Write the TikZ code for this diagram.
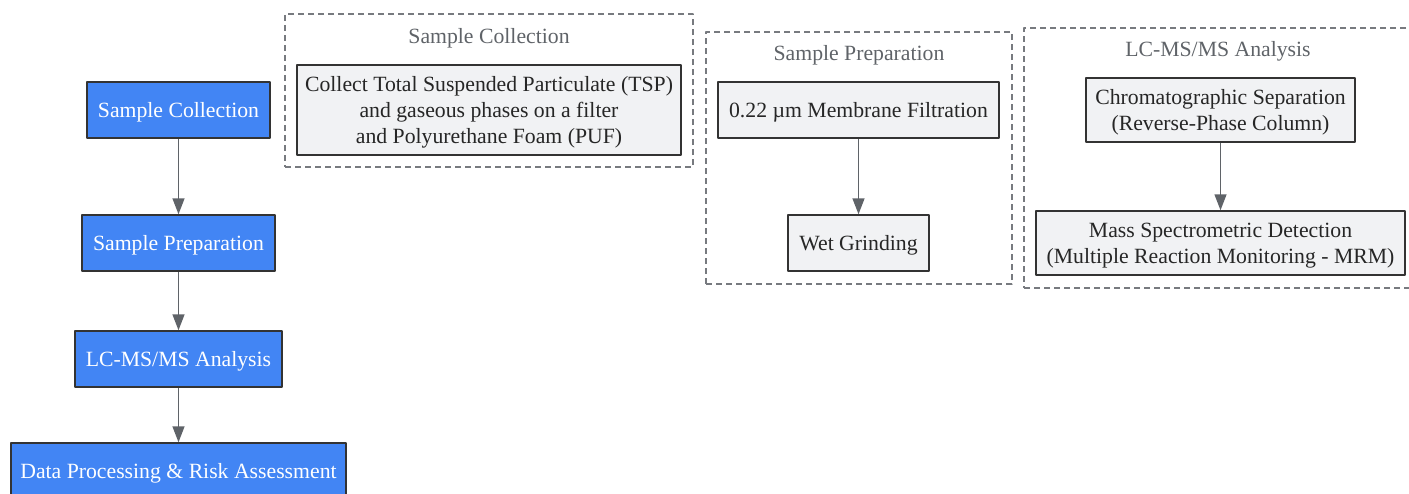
\documentclass[tikz,border=0pt]{standalone}
\usepackage{fontspec}
\setmainfont{Liberation Serif}
\usetikzlibrary{arrows.meta}
\definecolor{stepblue}{HTML}{4285F4}
\definecolor{linegray}{HTML}{5F6368}
\definecolor{boxgray}{HTML}{F1F2F4}
\definecolor{edgedark}{HTML}{333333}
\def\u{0.75pt} % one pixel
\tikzset{
  mainbox/.style={draw=edgedark, fill=stepblue, text=white, line width=1.1pt, inner sep=0pt, text depth=0pt},
  subbox/.style={draw=edgedark, fill=boxgray, text=black!85, line width=1.1pt, inner sep=0pt, align=center, text depth=0pt},
  group/.style={draw=linegray!85, dash pattern=on 4.5pt off 3pt, line width=0.9pt, inner sep=0pt},
  grouptitle/.style={text=linegray, text depth=0pt},
  flow/.style={->, draw=linegray, line width=1.1pt}
}
\begin{document}
\begin{tikzpicture}[x=\u, y=-\u, >={Triangle[length=12pt,width=9pt]}, font=\fontsize{16.3}{19.5}\selectfont, line join=round]
\useasboundingbox (0,0) rectangle (1409,493);
\clip (0,0) rectangle (1409,493);
% Hauptablauf
\node[mainbox, minimum width=183*\u, minimum height=56*\u] (coll) at (178.5,110) {Sample Collection};
\node[mainbox, minimum width=193*\u, minimum height=56*\u] (prep) at (178.5,243) {Sample Preparation};
\node[mainbox, minimum width=207*\u, minimum height=56*\u] (lcms) at (178.5,359) {LC-MS/MS Analysis};
\node[mainbox, minimum width=335*\u, minimum height=56*\u] (risk) at (178.5,471) {Data Processing \& Risk Assessment};
\draw[flow] (coll) -- (prep);
\draw[flow] (prep) -- (lcms);
\draw[flow] (lcms) -- (risk);
% Gruppe 1
\node[group, minimum width=408*\u, minimum height=153*\u] (grpcoll) at (489,90.5) {};
\node[grouptitle] (titlecoll) at (489,36) {Sample Collection};
\node[subbox, minimum width=384*\u, minimum height=90*\u] (tsp) at (489,110)
  {Collect Total Suspended Particulate (TSP)\\and gaseous phases on a filter\\and Polyurethane Foam (PUF)};
% Gruppe 2
\node[group, minimum width=306*\u, minimum height=252*\u] (grpprep) at (859,158) {};
\node[grouptitle] (titleprep) at (859,53) {Sample Preparation};
\node[subbox, minimum width=281*\u, minimum height=56*\u] (filt) at (858.5,110) {0.22 µm Membrane Filtration};
\node[subbox, minimum width=141*\u, minimum height=56*\u] (grind) at (858.5,243) {Wet Grinding};
\draw[flow] (filt) -- (grind);
% Gruppe 3
\node[group, minimum width=396*\u, minimum height=260*\u] (grplcms) at (1222,158) {};
\node[grouptitle] (titlelcms) at (1218,49) {LC-MS/MS Analysis};
\node[subbox, minimum width=269*\u, minimum height=64*\u] (chrom) at (1220.5,110)
  {Chromatographic Separation\\(Reverse-Phase Column)};
\node[subbox, minimum width=369*\u, minimum height=64*\u] (mrm) at (1220.5,243)
  {Mass Spectrometric Detection\\(Multiple Reaction Monitoring - MRM)};
\draw[flow] (chrom) -- (mrm);
\end{tikzpicture}
\end{document}
